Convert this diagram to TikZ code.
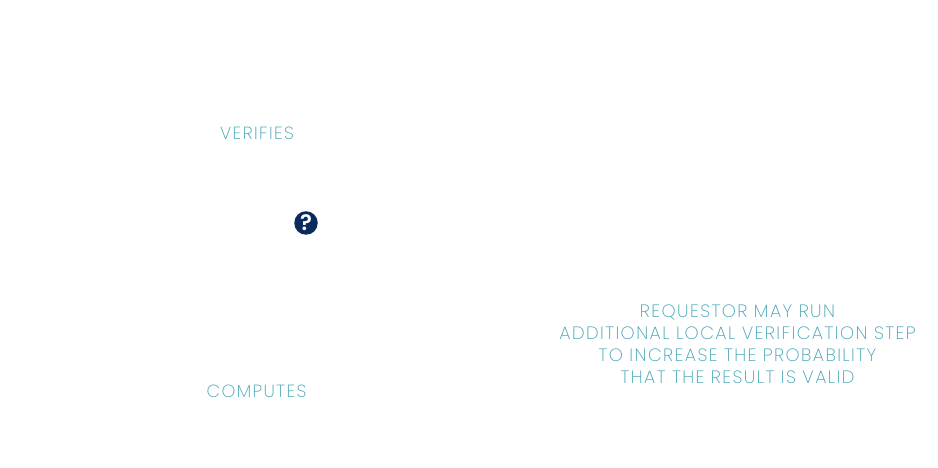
\documentclass[tikz,border=0pt]{standalone}
\usepackage{fontspec}
\setmainfont{Poppins ExtraLight}[LetterSpace=8]
\newfontfamily\markfont{Poppins SemiBold}
\definecolor{tealtext}{HTML}{3FA3B4}
\definecolor{navymark}{HTML}{0B2A5E}
\tikzset{
  caption/.style={text=tealtext, font=\fontsize{10pt}{12.47pt}\selectfont, align=center, inner sep=0pt},
  longcaption/.style={caption, font=\fontsize{10.17pt}{12.47pt}\selectfont},
  helpmark/.style={circle, fill=navymark, text=white, minimum size=4.7mm, inner sep=0pt, font=\markfont\fontsize{12.5pt}{12.5pt}\selectfont}
}
\begin{document}
\begin{tikzpicture}[scale=1]
        \useasboundingbox (0,0) rectangle (18.76,9.36);
        \fill[white] (0,0) rectangle (18.76,9.36);
        \node[caption] (verifies) at (5.14,6.70) {VERIFIES};
        \node[caption] (computes) at (5.13,1.54) {COMPUTES};
        \node[helpmark] (question) at (6.12,4.90) {?};
        \node[longcaption] (requestor) at (14.75,2.48) {REQUESTOR MAY RUN\\ADDITIONAL LOCAL VERIFICATION STEP\\TO INCREASE THE PROBABILITY\\THAT THE RESULT IS VALID};
    \end{tikzpicture}
\end{document}
